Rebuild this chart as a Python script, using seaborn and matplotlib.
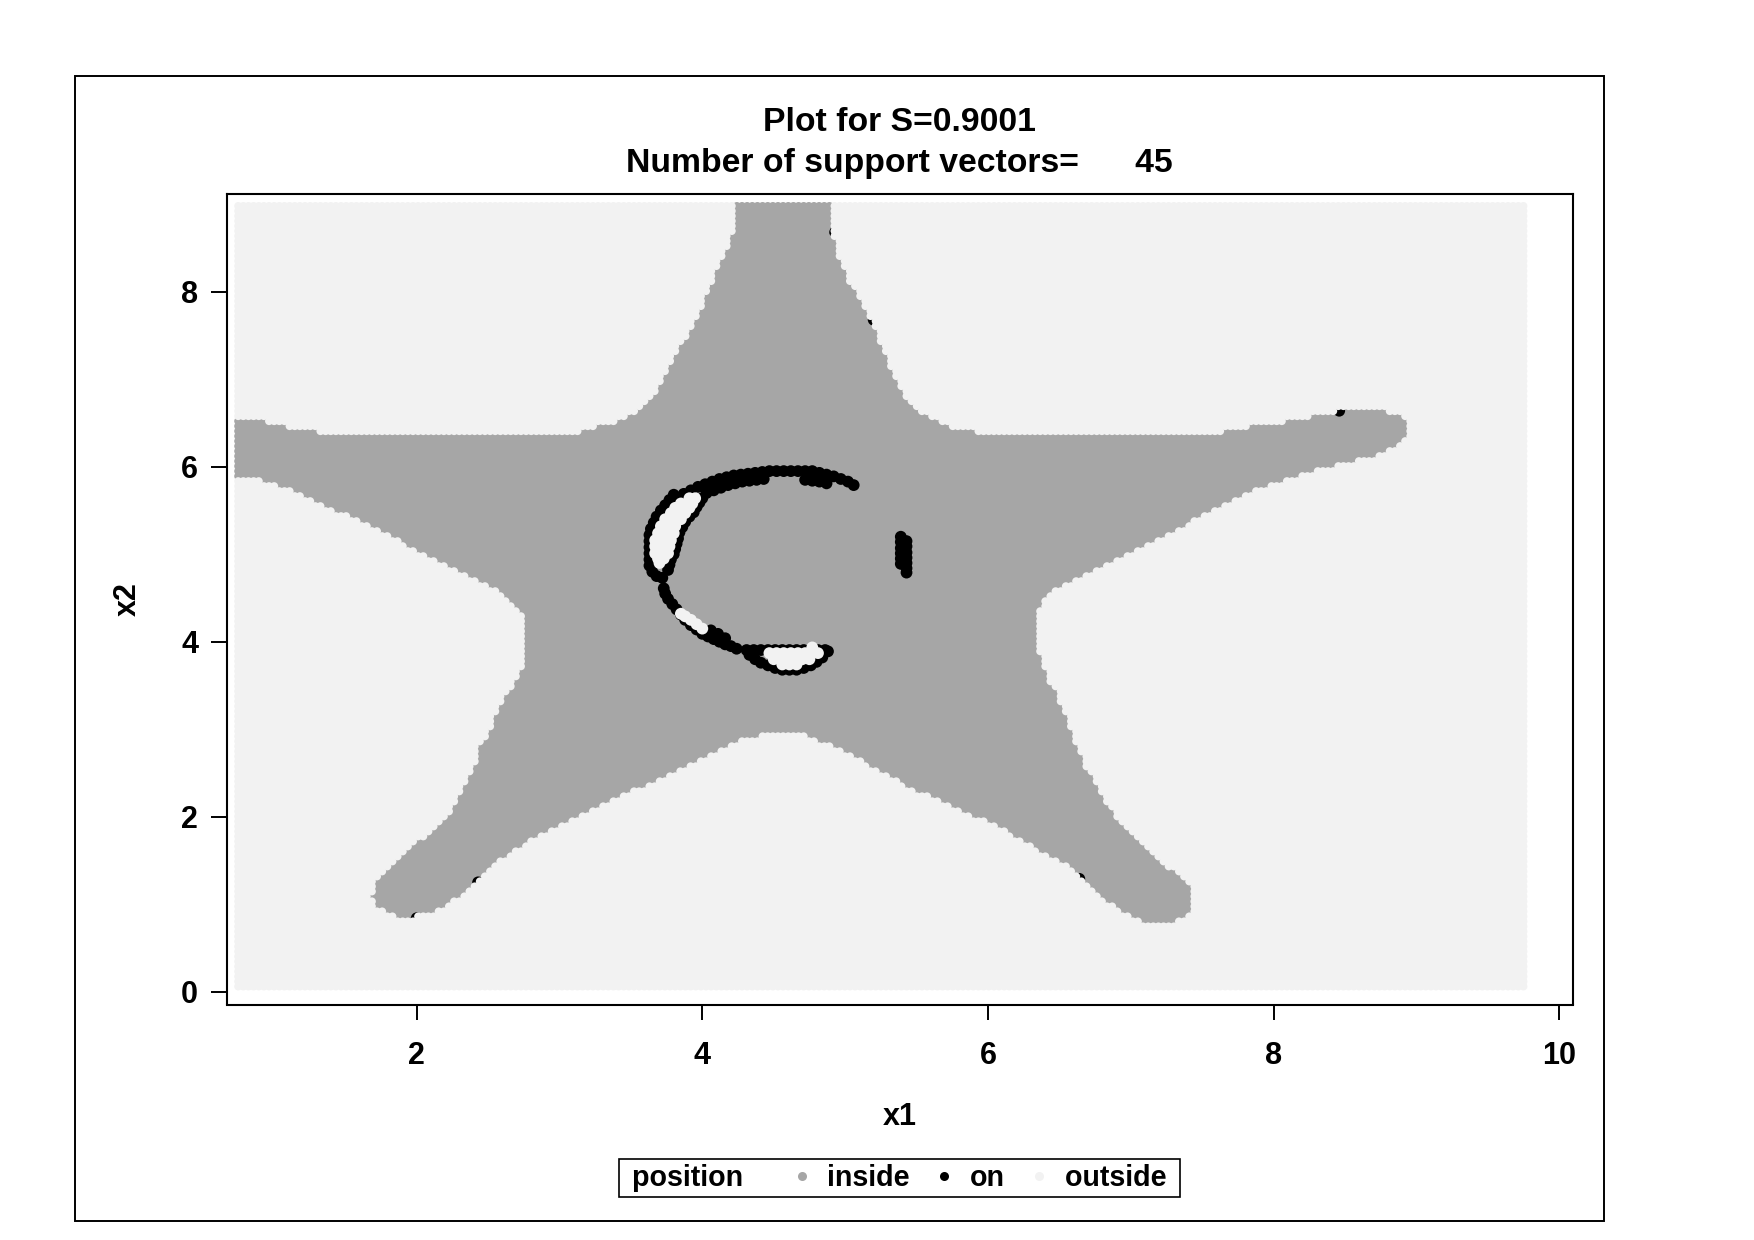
import numpy as np
import pandas as pd
import matplotlib
matplotlib.use("Agg")
import matplotlib.pyplot as plt
import seaborn as sns
from matplotlib.path import Path
from matplotlib.lines import Line2D
from matplotlib.patches import Rectangle

# ---------------- data ----------------
title_line1 = "Plot for S=0.9001"
title_line2 = "Number of support vectors=      45"
x_ticks = [2, 4, 6, 8, 10]
y_ticks = [0, 2, 4, 6, 8]
positions = ["inside", "on", "outside"]
colors = {"inside": "#a6a6a6", "on": "#000000", "outside": "#f2f2f2"}

# scoring grid
grid_x_range = (0.75, 9.75)
grid_nx = 251
grid_y_range = (0.06, 8.98)
grid_ny = 157

# star-shaped boundary of the "inside" region
star_x = [4.22, 4.22, 4.09, 4.00, 3.87, 3.77, 3.68, 3.56, 3.40, 3.20, 3.12, 1.37, 1.20, 1.00, 0.90, 0.50,
          0.50, 0.72, 1.00, 1.37, 1.75, 2.12, 2.37, 2.55, 2.67, 2.75, 2.75, 2.70, 2.65, 2.57, 2.53, 2.44,
          2.40, 2.35, 2.27, 2.21, 2.08, 1.95, 1.81, 1.73, 1.68, 1.72, 1.86, 2.00, 2.16, 2.33, 2.49, 2.65,
          2.86, 3.10, 3.33, 3.56, 3.80, 4.03, 4.26, 4.43, 4.71, 4.82, 4.96, 5.20, 5.43, 5.66, 5.90, 6.13,
          6.36, 6.60, 6.81, 7.02, 7.18, 7.30, 7.44, 7.44, 7.39, 7.21, 7.02, 6.88, 6.79, 6.69, 6.60, 6.55,
          6.47, 6.43, 6.39, 6.34, 6.34, 6.35, 6.40, 6.49, 6.64, 6.83, 7.02, 7.22, 7.41, 7.60, 7.80, 7.94,
          8.13, 8.33, 8.52, 8.71, 8.86, 8.95, 8.95, 8.88, 8.76, 8.52, 8.33, 8.18, 8.04, 7.87, 7.59, 5.99,
          5.77, 5.63, 5.52, 5.43, 5.35, 5.30, 5.22, 5.13, 5.03, 4.95, 4.91, 4.91]
star_y = [9.30, 8.69, 8.25, 7.83, 7.45, 7.18, 6.88, 6.67, 6.51, 6.44, 6.39, 6.39, 6.43, 6.49, 6.56, 6.56,
          5.90, 5.90, 5.80, 5.54, 5.25, 4.93, 4.74, 4.59, 4.44, 4.28, 3.79, 3.60, 3.45, 3.26, 3.07, 2.80,
          2.57, 2.42, 2.15, 2.00, 1.81, 1.66, 1.45, 1.30, 1.11, 0.95, 0.86, 0.86, 0.93, 1.12, 1.37, 1.58,
          1.79, 1.98, 2.15, 2.32, 2.50, 2.67, 2.86, 2.93, 2.93, 2.86, 2.77, 2.55, 2.34, 2.17, 2.00, 1.83,
          1.60, 1.39, 1.05, 0.82, 0.75, 0.78, 0.93, 1.12, 1.26, 1.51, 1.78, 2.04, 2.27, 2.57, 2.88, 3.18,
          3.45, 3.56, 3.75, 3.94, 4.10, 4.32, 4.48, 4.61, 4.72, 4.88, 5.01, 5.18, 5.35, 5.52, 5.66, 5.77,
          5.87, 5.96, 6.04, 6.12, 6.21, 6.34, 6.51, 6.59, 6.65, 6.65, 6.61, 6.55, 6.51, 6.48, 6.39, 6.39,
          6.44, 6.56, 6.65, 6.80, 7.03, 7.22, 7.56, 7.83, 8.13, 8.44, 8.68, 9.30]

# "on" points (black)
arc_top_x = [3.82, 3.87, 3.92, 3.97, 4.02, 4.07, 4.12, 4.17, 4.22, 4.27, 4.32, 4.37, 4.42, 4.47, 4.52,
             4.57, 4.62, 4.67, 4.72, 4.77, 4.82, 4.87, 4.92, 4.97, 5.02, 5.06,
             4.03, 4.08, 4.13, 4.18, 4.23, 4.28, 4.33, 4.38, 4.43, 4.72, 4.77, 4.82, 4.87]
arc_top_y = [5.65, 5.69, 5.73, 5.77, 5.80, 5.83, 5.86, 5.88, 5.90, 5.91, 5.92, 5.93, 5.94, 5.95, 5.95,
             5.95, 5.95, 5.95, 5.95, 5.95, 5.93, 5.91, 5.89, 5.86, 5.83, 5.79,
             5.70, 5.73, 5.76, 5.79, 5.81, 5.83, 5.84, 5.85, 5.86, 5.85, 5.84, 5.83, 5.81]
arc_left_x = [3.80, 3.77, 3.74, 3.71, 3.68, 3.66, 3.64, 3.63, 3.63, 3.63, 3.63, 3.63, 3.63, 3.65, 3.68, 3.72,
              4.00, 3.98, 3.96, 3.94, 3.91, 3.88, 3.86, 3.84, 3.83, 3.82, 3.81, 3.80, 3.78, 3.77, 3.76]
arc_left_y = [5.68, 5.62, 5.56, 5.50, 5.43, 5.36, 5.29, 5.22, 5.15, 5.08, 5.01, 4.94, 4.87, 4.80, 4.75, 4.73,
              5.64, 5.59, 5.54, 5.48, 5.43, 5.37, 5.31, 5.25, 5.18, 5.12, 5.06, 5.00, 4.94, 4.88, 4.82]
arc_low_x = [3.73, 3.74, 3.76, 3.79, 3.82, 3.85, 3.88, 3.92, 3.96, 4.00, 4.04, 4.08, 4.12, 4.16, 4.20, 4.24,
             4.06, 4.11, 4.16]
arc_low_y = [4.61, 4.55, 4.49, 4.43, 4.37, 4.31, 4.25, 4.19, 4.14, 4.09, 4.06, 4.03, 4.00, 3.97, 3.95, 3.92,
             4.13, 4.09, 4.04]
arc_bottom_x = [4.31, 4.36, 4.41, 4.46, 4.51, 4.56, 4.61, 4.66, 4.71, 4.76, 4.81, 4.86, 4.88,
                4.33, 4.37, 4.41, 4.46, 4.51, 4.56, 4.61, 4.66, 4.71, 4.76, 4.80, 4.84]
arc_bottom_y = [3.905, 3.905, 3.905, 3.905, 3.905, 3.905, 3.905, 3.905, 3.905, 3.905, 3.905, 3.905, 3.89,
                3.85, 3.80, 3.76, 3.73, 3.70, 3.68, 3.68, 3.68, 3.70, 3.73, 3.77, 3.82]
bar_x = [5.39, 5.39, 5.39, 5.39, 5.39, 5.39, 5.43, 5.43, 5.43, 5.43, 5.43, 5.43, 5.43]
bar_y = [5.20, 5.14, 5.07, 5.01, 4.95, 4.89, 5.15, 5.09, 5.02, 4.96, 4.90, 4.84, 4.79]
edge_on_x = [4.93, 5.20, 8.46, 2.00, 2.43, 6.64]
edge_on_y = [8.68, 7.68, 6.64, 0.84, 1.25, 1.29]

# "outside" data points inside the arc (white)
out_left_x = [3.91, 3.95, 3.85, 3.90, 3.93, 3.81, 3.86, 3.91, 3.78, 3.83, 3.88, 3.74, 3.79, 3.85,
              3.71, 3.76, 3.81, 3.69, 3.74, 3.80, 3.67, 3.72, 3.78, 3.67, 3.72, 3.77, 3.67, 3.72, 3.76,
              3.69, 3.73, 3.70]
out_left_y = [5.64, 5.64, 5.58, 5.58, 5.58, 5.53, 5.53, 5.53, 5.47, 5.47, 5.47, 5.40, 5.40, 5.40,
              5.32, 5.32, 5.32, 5.24, 5.24, 5.24, 5.16, 5.16, 5.16, 5.09, 5.09, 5.09, 5.01, 5.01, 5.01,
              4.95, 4.95, 4.90]
out_low_x = [3.85, 3.88, 3.92, 3.96, 4.00]
out_low_y = [4.32, 4.29, 4.25, 4.20, 4.15]
out_bottom_x = [4.47, 4.52, 4.57, 4.62, 4.67, 4.72, 4.77, 4.81, 4.50, 4.55, 4.60, 4.65, 4.70, 4.75,
                4.56, 4.61, 4.66, 4.77]
out_bottom_y = [3.87, 3.87, 3.87, 3.87, 3.87, 3.87, 3.87, 3.87, 3.80, 3.80, 3.80, 3.80, 3.80, 3.80,
                3.74, 3.74, 3.74, 3.935]

# ---------------- build the table ----------------
gx, gy = np.meshgrid(np.linspace(*grid_x_range, grid_nx), np.linspace(*grid_y_range, grid_ny))
pts = np.column_stack([gx.ravel(), gy.ravel()])
is_in = Path(np.column_stack([star_x, star_y])).contains_points(pts)
grid_df = pd.DataFrame({"x1": pts[:, 0], "x2": pts[:, 1],
                        "position": np.where(is_in, "inside", "outside"), "kind": "grid"})
on_x = arc_top_x + arc_left_x + arc_low_x + arc_bottom_x + bar_x + edge_on_x
on_y = arc_top_y + arc_left_y + arc_low_y + arc_bottom_y + bar_y + edge_on_y
out_x = out_left_x + out_low_x + out_bottom_x
out_y = out_left_y + out_low_y + out_bottom_y
on_df = pd.DataFrame({"x1": on_x, "x2": on_y, "position": "on", "kind": "train"})
out_df = pd.DataFrame({"x1": out_x, "x2": out_y, "position": "outside", "kind": "train"})
df = pd.concat([grid_df, on_df, out_df], ignore_index=True)
df["ord"] = df["position"].map({p: i for i, p in enumerate(positions)})
df = df.sort_values("ord", kind="stable").reset_index(drop=True)

# ---------------- plot ----------------
sns.set_style("white")
plt.rcParams["font.family"] = ["Liberation Sans", "DejaVu Sans"]
plt.rcParams["font.weight"] = "bold"
plt.rcParams["text.color"] = "black"
plt.rcParams["axes.labelcolor"] = "black"
plt.rcParams["xtick.color"] = "black"
plt.rcParams["ytick.color"] = "black"

W, H = 1754, 1240
fig = plt.figure(figsize=(W / 100, H / 100), dpi=100)
ax = fig.add_axes([226.7 / W, 1 - 1004.5 / H, (1572.7 - 226.7) / W, (1004.5 - 194) / H])

sns.scatterplot(data=df, x="x1", y="x2", hue="position", palette=colors,
                size="kind", sizes={"grid": 33, "train": 72}, linewidth=0,
                legend=False, ax=ax)

ax.set_xlim(0.6695, 10.095)
ax.set_ylim(-0.146, 9.117)
ax.set_xticks(x_ticks)
ax.set_yticks(y_ticks)
ax.set_xticklabels([str(t) for t in x_ticks])
ax.set_yticklabels([str(t) for t in y_ticks])
ax.tick_params(axis="x", direction="out", length=11, width=1.4, labelsize=22, pad=15,
               colors="black", labelcolor="black")
ax.tick_params(axis="y", direction="out", length=11.5, width=1.4, labelsize=22, pad=9,
               colors="black", labelcolor="black")
ax.tick_params(bottom=True, left=True, top=False, right=False)
for s in ax.spines.values():
    s.set_color("black")
    s.set_linewidth(1.5)
    s.set_visible(True)

ax.set_xlabel("x1", fontsize=22, fontweight="bold", color="black")
ax.set_ylabel("x2", fontsize=22, fontweight="bold", color="black")
ax.xaxis.set_label_coords(0.5, -(1125 - 1004.5) / 810.5)
ax.xaxis.label.set_verticalalignment("baseline")
ax.yaxis.set_label_coords((128 - 226.7) / 1346.0, 0.5)
ax.yaxis.label.set_verticalalignment("center")

cx = (226.7 + 1572.7) / 2 / W
fig.text(cx, 1 - 131 / H, title_line1, ha="center", va="baseline", fontsize=24.3,
         fontweight="bold", color="black")
fig.text(cx, 1 - 172 / H, title_line2, ha="center", va="baseline", fontsize=24.3,
         fontweight="bold", color="black")

# outer frame
fig.add_artist(Rectangle((75 / W, 1 - 1221 / H), (1604 - 75) / W, (1221 - 76) / H,
                         transform=fig.transFigure, fill=False, lw=1.4, ec="black"))

# legend with inline title
handles = [Line2D([0], [0], marker="o", linestyle="none", markersize=6.5,
                  markerfacecolor=colors[p], markeredgewidth=0) for p in positions]
labels = ["inside", "on", "outside\u00a0"]
leg = fig.legend(handles, labels, title="\u00a0position\u00a0\u00a0\u00a0", ncol=3, loc="center",
                 bbox_to_anchor=(899.5 / W, 1 - 1178 / H), frameon=True, fancybox=False,
                 edgecolor="black", framealpha=1, borderpad=0.18, handlelength=0.8,
                 handletextpad=0.5, columnspacing=0.8,
                 prop={"size": 20.6, "weight": "bold"},
                 title_fontproperties={"size": 20.6, "weight": "bold"})
leg.get_frame().set_linewidth(1.2)
for t in leg.get_texts():
    t.set_color("black")
leg.get_title().set_color("black")
try:
    c = leg.get_children()[0]
    title_box = c.get_children()[0]
    hpack = c.get_children()[1]
    c._children = [hpack]
    hpack._children = [title_box] + hpack.get_children()
except Exception:
    pass

fig.savefig("out.png", dpi=100)
